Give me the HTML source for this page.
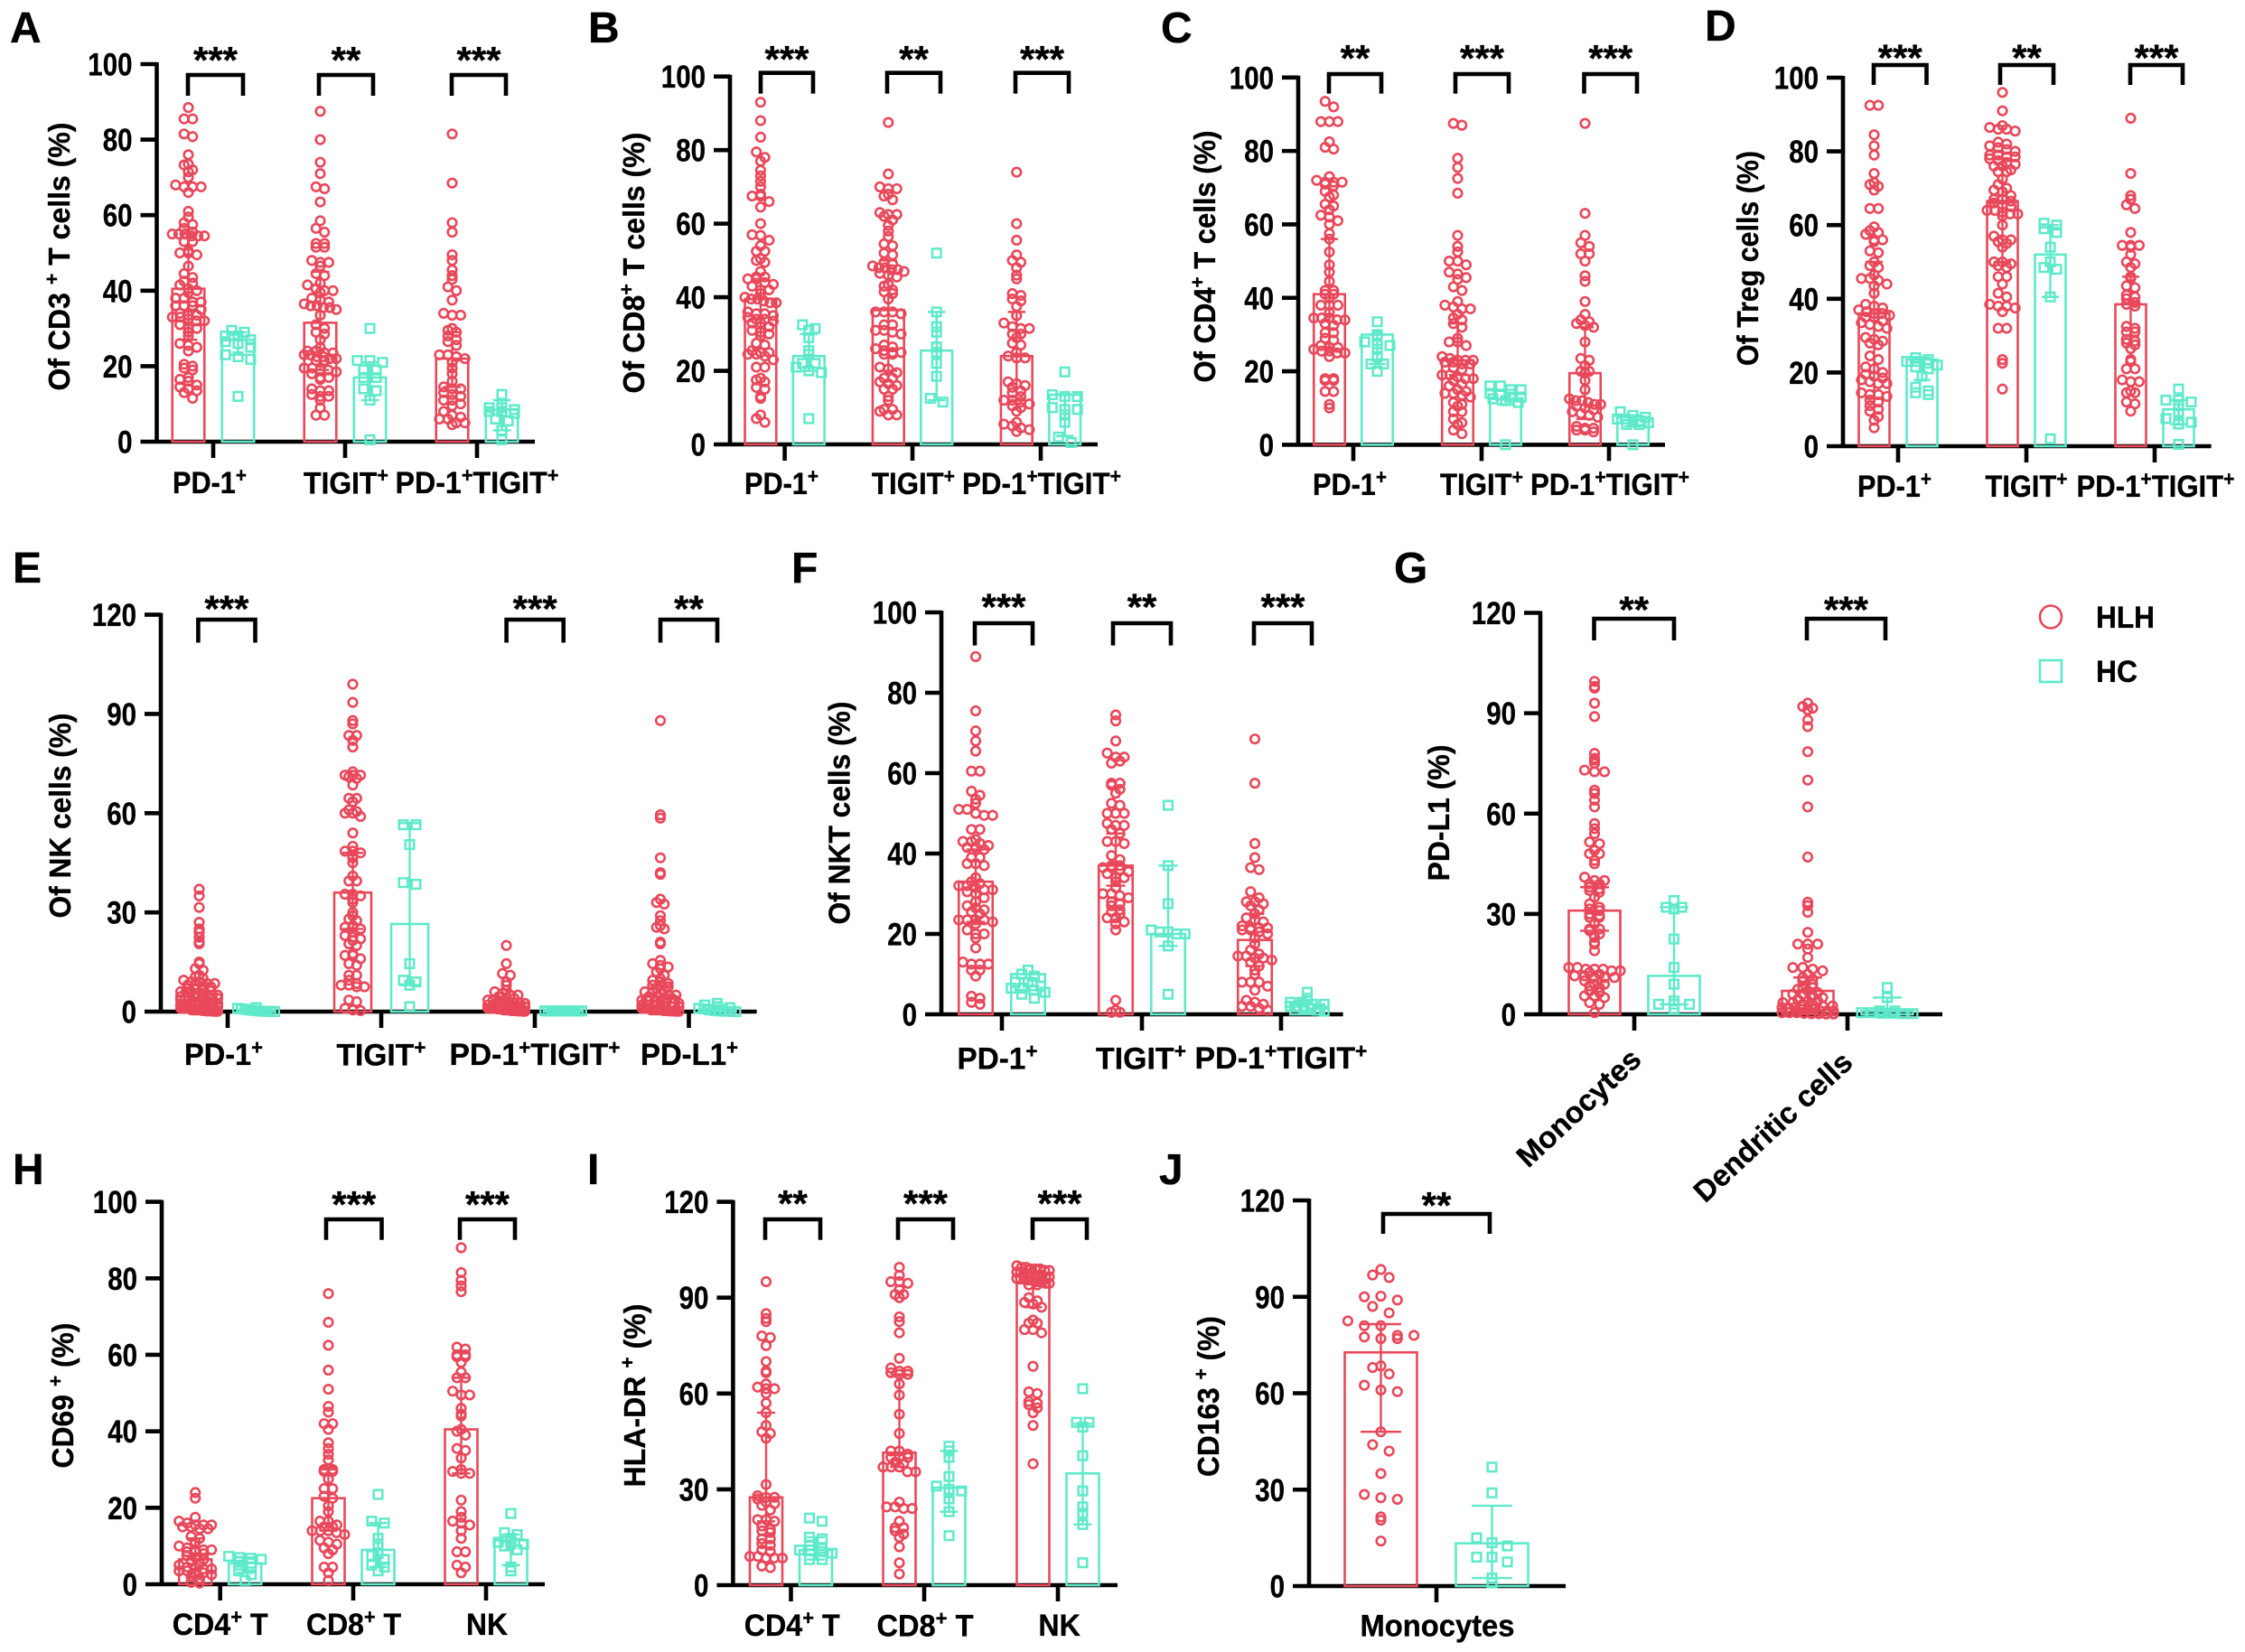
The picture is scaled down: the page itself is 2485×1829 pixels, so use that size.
<!DOCTYPE html>
<html lang="en">
<head>
<meta charset="utf-8">
<title>Immune checkpoint expression in HLH and HC</title>
<style>
html,body{margin:0;padding:0;background:#fff;}
svg{display:block;}
text{font-family:"Liberation Sans",Arial,sans-serif;font-weight:bold;fill:#000;stroke:#000;stroke-width:0.35px;}
</style>
</head>
<body>
<svg id="figure" xmlns="http://www.w3.org/2000/svg" width="2485" height="1829" viewBox="0 0 2485 1829"></svg>
<script>
/* ---------- Panel A ---------- */
const catsA=["PD-1^+","TIGIT^+","PD-1^+TIGIT^+"];
const sigA=["***","**","***"];
const hlhA=[[88.5,85.5,85.5,81.5,80.8,76,73.5,73.3,72,71.5,70,68,67.5,67.5,67.5,66,61,59.5,58,57.5,56.5,55.5,55,55,55,54.5,54.5,54.5,53,53,50.5,50,50,49.5,46.5,44.5,43.5,42.5,42,41.5,40.5,40,39.5,38,38,37,37,36,36,36,35,34,33.5,33.5,33,33,32.5,32,32,31,30,30,29,28,26,25.5,25,24,20.5,20,19.5,19,17,16.5,16,15,14.5,14,13.5,13,11.5],
[87.5,80,74,71,67.5,67,63.5,58.5,56.5,55.5,52.5,52.5,51.5,51.5,48,47.5,47.5,46.5,44.5,44,42,41.5,40.5,40,40,39.5,38,37.5,37,36.5,36,36,35.5,35.5,35,33.5,31,30,29,28.5,27,25,24,24,23.5,23.5,23,23,22.5,22.5,22,22,21.5,21.5,19.5,19.5,19,19,18.5,18,17,17,16.5,14,13.5,13.5,12.5,12,12,11,9,7,7],
[81.5,68.5,58,55.5,49.5,48,45.5,44,43,41,40,37.5,34,33.5,33.5,30,29.5,29,28,27,26.5,25.5,23,23,22.5,22,21,19.5,18,16,14.5,14,14,13,12.5,12,11,11,10,9.5,8,7,6.5,6,6,5,5,4.5]];
const hcA=[[29.5,29,28,28,27,26.5,26,25,23,22.5,21.8,12],[30,21.5,21.5,21,19,19,17,17,14,13.5,11,0.5],[12.5,10,9,9,8.5,8,8,7.5,6,5.5,3,0.5]];
const meanHlhA=[40.5,31.5,22];
const meanHcA=[27,17,8.5];
const loHlhA=[27,19,14.5];
const hiHlhA=[55,45,29];
const loHcA=[23,11,3];
const hiHcA=[29,21,11];
/* ---------- Panel B ---------- */
const catsB=["PD-1^+","TIGIT^+","PD-1^+TIGIT^+"];
const sigB=["***","**","***"];
const hlhB=[[93,88,83.5,79.5,78,77,74.5,73,71.5,70,68,67.5,67.5,66,64.5,60,57,56.8,55.5,54,52.5,52.5,50.5,50,49.5,47,45.5,45.5,45,45,44,43.5,43,42,42,41,40,39.5,39.5,39,38.5,38.5,36,35.5,35.5,35,34.5,34,34,33.5,33,33,32,31,30.5,30,29.5,27.5,27,25.5,25,25,24.5,24.5,24,23,21,21,18,17.5,17,15.5,15,13,12.5,8,7,6],
[87.5,73.5,70,69.5,69.5,68,67.5,66.5,63,62.5,62.5,62,61,59.5,58,56.5,54.5,54,52,51.5,49.5,49,48.5,48,48,47.5,47.5,47,46.5,46,45.5,43.5,43,42,41.5,41,39.5,36,36,36,35.5,32.5,32.5,31,31,30.5,30,27,26.5,26,25.5,25,25,24.5,24.5,21,20.5,19.5,18,18,17,16.5,16,15,15,13,12,9.5,9.5,9,8,8],
[74,60,55.5,51.5,50,49.5,48,46,45,41,40.5,39.5,39,37.5,35,33,32,31.5,31.5,30,30,29,27.5,27,25,24,23.5,23.5,17,16.5,16,15.5,14.5,14,13,12,12,11.5,11,10.5,10,9,6,5.5,5,4.5,4,3.5]];
const hcB=[[32.5,31.5,31,29,25.5,24.5,22,22,21,20,19.5,7],[52,36,32,30.5,26.5,25,22,18.5,12.5,11.5],[19.7,13.5,13,13,10,9.5,9.5,8,6,2,0.5]];
const meanHlhB=[39.5,36.5,24];
const meanHcB=[24,25.5,13.5];
const loHlhB=[26,20,12];
const hiHlhB=[45,50,36];
const loHcB=[20,12,2.3];
const hiHcB=[30,36,13.5];
/* ---------- Panel C ---------- */
const catsC=["PD-1^+","TIGIT^+","PD-1^+TIGIT^+"];
const sigC=["**","***","***"];
const hlhC=[[93.5,92,88,88,88,82.5,81,80.5,73,72,71.5,71.5,71.5,71,70.5,69,68,67.5,65.5,65,64,62.5,62,61,60,57.5,56,52.5,49,47,44.5,42,42,41,41,40,38,38,38,36,34.5,34.5,34.5,34,34,33,32.5,30.5,30.5,29,28.5,27,26.5,26.5,26,25.5,25.5,25,25,24,18,18,17.5,17.5,14.5,14.5,11,10],
[87.5,87,78,75.5,72.5,68.5,57,54,52.5,50,50,49,47,46.5,45.5,45,43,42,39,38,37.5,37,37,35.5,34.5,34,33,32,29,28,28,27,24,23.5,23,23,23,22.5,22.5,22,22,21,20.5,19,19,18.5,18,18,17.5,16.5,16,15,14.5,14,14,13.5,13,11.5,11,10.5,9,9,7,6,5.5,4,3],
[87.5,63,57,55,54,52,52,50,46,44.5,39,35.5,34,33.5,33,32.5,32,28,23.5,23,21.5,20,20,19.5,17.5,15,12.5,12,12,11.5,11,11,10.5,10,9.5,9,8.5,8,7.5,5,4.5,4.5,4,4,3.5]];
const hcC=[[33.5,30,29.5,28,27.5,27,26,24,22,22,20],[16,16,15,15,14,13.5,13,13,12.5,12,11.5,0],[9,8,7.5,7,7,6.5,6.5,6,5.5,5.5,0]];
const meanHlhC=[41,23,19.5];
const meanHcC=[30,12.5,7.5];
const loHlhC=[26,19,7];
const hiHlhC=[56,33,32];
const loHcC=[22,11,5];
const hiHcC=[30,15,8];
/* ---------- Panel D ---------- */
const catsD=["PD-1^+","TIGIT^+","PD-1^+TIGIT^+"];
const sigD=["***","**","***"];
const hlhD=[[92.5,92.5,84.5,81.5,79,74,71.5,71,70.5,69.5,64.5,64.5,59.5,58.5,58,57.5,56,56,55.5,53,52.5,50,49,48.5,46.5,45.5,45.5,45,44,43.5,41.5,38.5,38,37.5,37,36.5,36,36,35.5,35,35,34,33.5,33,32.5,32,29.5,29,28.5,28,27.5,24.5,23.5,21.5,21,20,19.5,19,18.5,18,17.5,17,17,14.5,14,14,13.5,12.5,12,11,10,9.5,8,7,5],
[96,91,87,86.5,86,86,85.5,82.5,82,81.5,81,80.5,80,79,79,78.5,78.5,78,77.5,77,76.5,76,76,75,74.5,74.5,72.5,71,70,69.5,69,68,67,67,66.5,66,65.5,65,64,64,63.5,63,63,62.5,60,57,56,56,55.5,55,54,50,50,49.5,49,48.5,46,46,44,41.5,40.5,38.5,38,38,37.5,36.5,32,32,23.5,22.5,15.5],
[89,74,68,67,65.5,64.5,58,54.5,54.5,54.5,54,52,50,49.5,48.5,46,45.5,43.5,43,41,40.5,40,39,38.5,38,32.5,32,31,31,29,28.5,28,27.5,26.5,23.5,23,21,21,18,17.5,17.5,15,14.5,14.5,12,11.5,9.5]];
const hcD=[[24,23.5,23,23,22.5,22,21.5,21,19,16,15,14.5,14],[60.5,60,59,58,54,50,48.5,48,40.5,2],[15.5,12.5,12.5,12,11,9,7.5,7,6.5,6,0.5]];
const meanHlhD=[36,66.5,38.5];
const meanHcD=[23.5,52,10];
const loHlhD=[13,50,30];
const hiHlhD=[50,78,46];
const loHcD=[18,40.5,6];
const hiHcD=[24,60,12.5];
/* ---------- Panel E ---------- */
const catsE=["PD-1^+","TIGIT^+","PD-1^+TIGIT^+","PD-L1^+"];
const sigE=["***","","***","**"];
const hlhE=[[37,35,31.5,27,25,24,22.5,21,20.5,15,14.5,13,12.5,11,10.5,10,9.5,9,9,8.5,8.5,8,8,7.5,7.5,7,7,6.5,6.5,6,6,6,5.5,5.5,5,5,5,4.5,4.5,4.5,4,4,4,3.5,3.5,3.5,3,3,3,3,2.5,2.5,2.5,2.5,2,2,2,2,1.5,1.5,1.5,1.5,1,1,1,1,1,0.5,0.5,0.5,0.5,0.5,0.3,0.3,0.2,0.2,0.2,0.1,0.1,0.1],
[99,93.5,88,87,83.5,83.5,82,80,72.5,71.5,71.5,71.5,71,70.5,68.5,64.5,64.5,63.5,61,60.5,60,60,59,54,50,48.5,48.5,48,47,46.5,45,41,39.5,39.5,35.5,35.5,35,34,33,30,29,28,27.5,26,25.5,25.5,25,24,23,22.5,22,21.5,20.5,20,17.5,17,17,16,14.5,14,11,11,9.5,8.5,8,8,7.5,7.5,3.5,3,1,0.5,0.3],
[20,14.5,11.5,11,9,8,6.5,6,5.5,5,5,4.5,4,4,3.5,3.5,3,3,3,2.5,2.5,2.5,2,2,2,2,1.5,1.5,1.5,1.5,1,1,1,1,1,0.8,0.8,0.8,0.5,0.5,0.5,0.5,0.3,0.3,0.3,0.2,0.2,0.2,0.1,0.1],
[88,59.5,58.5,46.5,42,41.5,34,33,32.5,29,27.5,26,25.5,25,21,20.5,15.5,14.5,14,13.5,13,12,11,10,9.5,9,8.5,8,8,7.5,7,6.5,6,6,5.5,5,5,4.5,4.5,4,4,3.5,3.5,3,3,3,2.5,2.5,2,2,2,1.5,1.5,1.5,1,1,1,0.5,0.5,0.5,0.5,0.3,0.3,0.2,0.2,0.1,0.1]];
const hcE=[[1.2,1,0.8,0.7,0.5,0.4,0.3,0.2,0.1,0.1,0.1,0],[56.5,56.5,50.5,39,38.5,14.5,9.5,9,8,1.5],[0.2,0.2,0.2,0.2,0.2,0.2,0.2,0.2,0.2,0.2,0.2,0.2],[2.5,2,1.5,1.2,1,0.8,0.5,0.3,0.2,0.1,0.1,0]];
const meanHlhE=[3.5,36,2,4.5];
const meanHcE=[0.5,26.5,0.2,0.8];
const loHlhE=[0.5,25,0.3,1];
const hiHlhE=[8,48,4,8];
const loHcE=[0,8,0,0];
const hiHcE=[1,57,0.2,2];
/* ---------- Panel F ---------- */
const catsF=["PD-1^+","TIGIT^+","PD-1^+TIGIT^+"];
const sigF=["***","**","***"];
const hlhF=[[89,75.5,70.5,68,65.5,60.5,60.5,55.5,54.5,53.5,52.5,51,51,50,49.5,49.5,46,46,43.5,43,43,42.5,42,41.5,41.5,41,39,39,37.5,37.5,37,34,33,32.5,32,32,31.5,31,31,30.5,30,29,28,27,26.5,26,25.5,25,23.5,23.5,23.5,23.5,23,22.5,21,20,20,19,16.5,13,12.5,12.5,12.5,11,11,9.5,4.5,4,3,2.5],
[74.5,73,68,65,64,64,62.5,63,57.5,57.5,57,56,55,52.5,52,50,50,50,47.5,47,47,46,45,43,43,42.5,39.5,38.5,37,37,36.5,36.5,36,35.5,35,34,34,33,31.5,30,30,29.5,29,28,27.5,27,26,25.5,25,24,24,23,22.5,21,3.5,1,0.5,0.5],
[68.5,57.5,42.5,39,36.5,36,30.5,29,28,28,27.5,27,26,25,24,23.5,23,22,21.5,21.5,21.5,21,21,20.5,20,19,17.5,16,15,14.5,14.5,14,14,13.5,13,12,11,10,8,8,8,7,6,3.5,3,2.5,2,2,1.5,1]];
const hcF=[[11,10,9.5,8,8,7,6.5,6.5,6,5.5,5,4],[52,37,27.5,21,20.5,20.5,20,20,17,5],[5.5,4,3,3,2.5,2.5,2,2,1.5,1.5,1,0.8]];
const meanHlhF=[33,37,18.5];
const meanHcF=[10,20,2.5];
const loHlhF=[23,32,12];
const hiHlhF=[41,45,25];
const loHcF=[6,17,1];
const hiHcF=[9,37,3.5];
/* ---------- Panel G ---------- */
const catsG=["Monocytes","Dendritic cells"];
const sigG=["**","***"];
const hlhG=[[99.5,98,97.5,93,89,78,76.5,76,75,73,72.5,72.5,67,66,64,62,57,55.5,54,51.5,51,49,48,48,46,45,41,40,40,39,39,38,37.5,37,36.5,35,33,32,31.5,31,30,29.5,29,29,27,25.5,25.5,25,24,23,21.5,21,19,14,14,13.5,13.5,13.5,13,13,12.5,12,11.5,11.5,11,11,11,10,9,9,8.5,8,7,6.5,5.5,5.5,5,3.5,3,0.5],
[93,92,91.5,91,88,86,78.5,70,62,47,33.5,32.5,30.5,24.5,21,21,21,19.5,17,14,14,13.5,13,12,11,10.5,10,9,8,8,7.5,7,6.5,6,6,5.5,5,4.5,4,4,3.5,3.5,3,3,2.5,2.5,2,2,2,1.5,1.5,1.5,1,1,1,0.5,0.5,0.5,0.3,0.2,0.2,0.1,0.1]];
const hcG=[[34,32,32,31.5,22.5,14,9,4,3,3,3,1.5],[8,5,1,1,0.5,0.5,0.3,0.3,0.2,0.2]];
const meanHlhG=[31,7];
const meanHcG=[11.5,1];
const loHlhG=[25,1];
const hiHlhG=[38,11];
const loHcG=[3,0];
const hiHcG=[32,5];
/* ---------- Panel H ---------- */
const catsH=["CD4^+ T","CD8^+ T","NK"];
const sigH=["","***","***"];
const hlhH=[[24,22.5,17.5,16.5,16,15.5,15.5,15.5,15,15,14.5,14.5,12.5,12,11,10,9.5,9,9,9,8.5,8.5,8,7.5,7,6.5,6,5.5,5,4.5,4.5,4,4,3.5,3.5,3,3,2.5,2,1.5,0.5,0.3],
[76,68.5,62.5,56,51,46.5,45,42,42,40.5,37,35.5,34,32.5,30,30,29.5,29.5,27.5,25,25,23,22.5,20.5,19,16.5,16.5,15.5,15,15,14,14,14,13.5,13,11.5,11,10.5,9.5,9,8,4.5,4.5,3,1],
[88,81.5,79.5,78,76.5,62,61.5,60,60,59.5,59.5,58,55.5,54,54,50.5,49.5,49.5,46,44.5,44,40.5,40,39,35.5,35,33,30,29.5,29,29,22,19,17.5,16.5,16,15.5,14,12,8.5,8.5,5,4.5,3]];
const hcH=[[7.3,7,6.8,6.5,6,5.5,5,4.5,3.5,2.5,1],[23.5,16.5,16,12,10.5,8,7.5,6.5,5,4.5,3.5],[18.5,13.5,13,12,11,10.5,10.5,10,9,4.5,3.5]];
const meanHlhH=[6.5,22.5,40.5];
const meanHcH=[5.5,9,11.5];
const loHlhH=[2,14,29];
const hiHlhH=[12,30,54];
const loHcH=[3,4.5,5];
const hiHcH=[7,16,13];
/* ---------- Panel I ---------- */
const catsI=["CD4^+ T","CD8^+ T","NK"];
const sigI=["**","***","***"];
const hlhI=[[95,85,83.5,82.5,78,77.5,75,70,67,66.5,63,62,61.5,61.5,60,57,54,50,48,47.5,46,31.5,28,27.5,27.5,27,26,25.5,25,23.5,20.5,20.5,20,18.5,17.5,17,16.5,14.5,14.5,13,12.5,11,10.5,9,9,8.5,8.5,8.5,6,5.5],
[99.5,97,95,95,94.5,92.5,91,91,90,84,82.5,79,71,68,67,67,66.5,66,66,63,59.5,53.5,47.5,42,42,41,40,40,40,38.5,38,37,37,37,35.5,35.5,26,24.5,24.5,24,24,20,18,18,17,16,15,12,7,3.5],
[100,99.5,99.5,99,99,99,98.5,98.5,98,98,98,97.5,97.5,97,97,97,96.5,96.5,96,96,96,95.5,95.5,95,95,95,94.5,94.5,94,94,90,89,88.5,88,87,83,82,82,80,80,79,68.5,60.5,60,57.5,57,56.5,55.5,54,50,38]];
const hcI=[[21,20,15,14.5,12.5,11.5,11,11,10.5,10,8,8],[43.5,42,40,34,31,30,29.5,29,27,23,15.5],[61.5,51,51,49.5,40.5,29.5,24.5,22.5,19,7]];
const meanHlhI=[27.5,41.5,94.5];
const meanHcI=[11,30.5,35];
const loHlhI=[20,37,87];
const hiHlhI=[54,66,100];
const loHcI=[8,23,19];
const hiHcI=[15,42,50.5];
/* ---------- Panel J ---------- */
const catsJ=["Monocytes"];
const sigJ=["**"];
const hlhJ=[[98.5,96.8,96,90,90.2,89,87,85,82.5,81,81,78,78,77.5,77,77,68,68.5,66,62.5,61,60.5,48,44,42,35,28.5,27.5,27,21.5,20.5,14]];
const hcJ=[[37,29,15,13.5,12.5,9,9,7.5,2.5,1]];
const meanHlhJ=[72.7];
const meanHcJ=[13.3];
const loHlhJ=[48];
const hiHlhJ=[81.5];
const loHcJ=[2.5];
const hiHcJ=[25];
/* ---------- Axis ticks ---------- */
const ticks100=[0,20,40,60,80,100];
const ticks120=[0,30,60,90,120];

const RED="#e9485a";
const TEAL="#5eeaca";
const NS="http://www.w3.org/2000/svg";
const root=document.getElementById("figure");

function mk(tag,attrs,parent){
  const el=document.createElementNS(NS,tag);
  for(const k in attrs)el.setAttribute(k,attrs[k]);
  (parent||root).appendChild(el);
  return el;
}
/* "^" wraps a superscript */
function fillText(t,str,size){
  const parts=str.split("^");
  const rise=Math.round(size*0.36);
  parts.forEach(function(p,i){
    if(i===0){t.appendChild(document.createTextNode(p));return;}
    const sup=mk("tspan",{"font-size":Math.round(size*0.68),dy:-rise},t);
    sup.textContent=p.charAt(0);
    const rest=p.slice(1);
    const tail=mk("tspan",{dy:rise},t);
    tail.textContent=rest===""?"\u200b":rest;
  });
}
function fitted(str,cx,cy,len,rot,size,parent){
  const g=mk("g",{},parent);
  const t=mk("text",{x:0,y:size*0.36,"text-anchor":"middle","font-size":size},g);
  fillText(t,str,size);
  const sx=len/t.getComputedTextLength();
  g.setAttribute("transform","translate("+cx+" "+cy+") rotate("+rot+") scale("+sx+" 1)");
  return t;
}
function swarm(values,y,step,binPx,maxHalf){
  const bins={};
  values.forEach(function(v){
    const k=Math.floor(y(v)/binPx);
    (bins[k]=bins[k]||[]).push(v);
  });
  const out=[];
  Object.keys(bins).forEach(function(k){
    const b=bins[k],n=b.length;
    const s=n>1?Math.min(step,2*maxHalf/(n-1)):0;
    b.forEach(function(v,i){out.push({v:v,dx:(i-(n-1)/2)*s});});
  });
  return out;
}
function drawGroup(g,L,color,cx,values,mean,lo,hi,y,step,square){
  const bar=mk("rect",{x:cx-L.barW/2,y:y(mean),width:L.barW,height:L.y0-y(mean),fill:"none",stroke:color,"stroke-width":2.6},g);
  
  
  const cap=L.barW*0.28;
  const err=mk("path",{d:"M"+cx+" "+y(hi)+"V"+y(lo)+"M"+(cx-cap)+" "+y(hi)+"H"+(cx+cap)+"M"+(cx-cap)+" "+y(lo)+"H"+(cx+cap),fill:"none",stroke:color,"stroke-width":2.4},g);
  
  
  swarm(values,y,step,L.bin||7,Math.max(L.barW/2,step)).forEach(function(p){
    const px=cx+p.dx,py=y(p.v);
    let m;
    if(square){
      m=mk("rect",{x:px-4.8,y:py-4.8,width:9.6,height:9.6,fill:"none",stroke:color,"stroke-width":2.5},g);
    }else{
      m=mk("circle",{cx:px,cy:py,r:4.8,fill:"none",stroke:color,"stroke-width":2.6},g);
    }
    
    
  });
}
function panel(L,D){
  const g=mk("g",{});
  
  
  const letter=mk("text",{x:L.lx,y:L.ly,"font-size":48},g);
  letter.textContent=L.letter;
  
  
  const y=function(v){return L.y0+(L.yTop-L.y0)*v/L.yMax;};
  const axes=mk("path",{d:"M"+L.ax+" "+(L.yTop-2)+"V"+(L.y0+2)+"M"+L.ax+" "+L.y0+"H"+L.xEnd,fill:"none",stroke:"#000","stroke-width":L.lw||4.6},g);
  
  
  D.ticks.forEach(function(tv){
    const tk=mk("line",{x1:L.ax-18,x2:L.ax,y1:y(tv),y2:y(tv),stroke:"#000","stroke-width":L.lw||4.6},g);
    
    
    const s=String(tv);
    const lb=mk("text",{x:L.ax-27,y:y(tv)+12.5,"text-anchor":"end","font-size":35,textLength:s.length*16.4,lengthAdjust:"spacingAndGlyphs"},g);
    lb.textContent=s;
    
    
  });
  const yt=fitted(D.title,L.tx,L.tcy,L.tlen,-90,33,g);
  
  
  D.cats.forEach(function(c,i){
    const tx=L.ticksX[i];
    const tk=mk("line",{x1:tx,x2:tx,y1:L.y0,y2:L.y0+18,stroke:"#000","stroke-width":L.lw||4.6},g);
    
    
    const lab=fitted(c,L.labX[i],L.labYs?L.labYs[i]:L.labY,L.labW[i],L.labRot||0,L.labSize||34,g);
    
    
    const off=L.offs?L.offs[i]:L.off;
    drawGroup(g,L,RED,tx-off,D.hlh[i],D.meanH[i],D.loH[i],D.hiH[i],y,L.stepH||9.4,false);
    drawGroup(g,L,TEAL,tx+off,D.hc[i],D.meanC[i],D.loC[i],D.hiC[i],y,L.stepC||14,true);
    if(D.sig[i]){
      const bx=L.brX[i];
      const br=mk("path",{d:"M"+bx[0]+" "+L.brBot+"V"+L.brTop+"H"+bx[1]+"V"+L.brBot,fill:"none",stroke:"#000","stroke-width":4.6},g);
      
      
      const st=mk("text",{x:(bx[0]+bx[1])/2,y:L.starY+24,"text-anchor":"middle","font-size":42},g);
      st.textContent=D.sig[i];
      
      
    }
  });
}

panel({letter:"A",lx:11,ly:47,ax:173.5,yTop:71,y0:489,yMax:100,xEnd:592,ticksX:[236,382,528],off:27.5,barW:35.5,tx:65,tcy:284,tlen:297,labX:[232,383,528],labW:[82,94,181],labY:534,brTop:83,brBot:106,brX:[[208,269],[353,413],[500,560]],starY:57},
{cats:catsA,sig:sigA,ticks:ticks100,title:"Of CD3 ^+ T cells (%)",hlh:hlhA,hc:hcA,meanH:meanHlhA,meanC:meanHcA,loH:loHlhA,hiH:hiHlhA,loC:loHcA,hiC:hiHcA});

panel({letter:"B",lx:651,ly:47,ax:808,yTop:84.7,y0:492,yMax:100,xEnd:1215,ticksX:[868.6,1010,1152],off:26.7,barW:34.7,tx:701,tcy:291,tlen:289,labX:[865,1011,1153],labW:[82,92,176],labY:535,brTop:80.7,brBot:103.6,brX:[[842,900],[982,1041],[1124,1183]],starY:56},
{cats:catsB,sig:sigB,ticks:ticks100,title:"Of CD8^+ T cells (%)",hlh:hlhB,hc:hcB,meanH:meanHlhB,meanC:meanHcB,loH:loHlhB,hiH:hiHlhB,loC:loHcB,hiC:hiHcB});

panel({letter:"C",lx:1285,ly:47,ax:1437,yTop:85.8,y0:492.4,yMax:100,xEnd:1843,ticksX:[1498,1640,1781],off:26.5,barW:34.5,tx:1333,tcy:284,tlen:279,labX:[1494,1640,1782],labW:[82,92,176],labY:536,brTop:82,brBot:103.6,brX:[[1471,1529],[1611,1670],[1753.5,1812]],starY:55},
{cats:catsC,sig:sigC,ticks:ticks100,title:"Of CD4^+ T cells (%)",hlh:hlhC,hc:hcC,meanH:meanHlhC,meanC:meanHcC,loH:loHlhC,hiH:hiHlhC,loC:loHcC,hiC:hiHcC});

panel({letter:"D",lx:1887,ly:45,ax:2040,yTop:86,y0:494,yMax:100,xEnd:2447.6,ticksX:[2101,2243,2385],off:26.5,barW:34,tx:1934,tcy:286,tlen:238,labX:[2097,2243,2386],labW:[82,91,175],labY:538,brTop:72,brBot:94,brX:[[2074,2132.5],[2214,2273],[2358,2416]],starY:54.5},
{cats:catsD,sig:sigD,ticks:ticks100,title:"Of Treg cells (%)",hlh:hlhD,hc:hcD,meanH:meanHlhD,meanC:meanHcD,loH:loHlhD,hiH:hiHlhD,loC:loHcD,hiC:hiHcD});

panel({letter:"E",lx:14,ly:645,ax:178,yTop:680.6,y0:1120,yMax:120,xEnd:837.6,ticksX:[252,422,592,762.5],off:31.5,barW:41,stepH:8.6,bin:4.5,tx:66,tcy:903,tlen:227,labX:[247.5,422,592,763],labW:[87,99,189,108],labY:1167,brTop:686,brBot:711.5,brX:[[219.4,282.5],[0,0],[560.6,623.7],[731,794]],starY:664.4},
{cats:catsE,sig:sigE,ticks:ticks120,title:"Of NK cells (%)",hlh:hlhE,hc:hcE,meanH:meanHlhE,meanC:meanHcE,loH:loHlhE,hiH:hiHlhE,loC:loHcE,hiC:hiHcE});

panel({letter:"F",lx:876,ly:645,ax:1042,yTop:678,y0:1123,yMax:100,xEnd:1486.6,ticksX:[1109,1264,1418],off:29,barW:37.5,tx:928.5,tcy:900,tlen:247,labX:[1104,1263,1418],labW:[89,100,191],labY:1171,brTop:690,brBot:714.6,brX:[[1079,1143],[1232,1296],[1388,1452]],starY:662.5},
{cats:catsF,sig:sigF,ticks:ticks100,title:"Of NKT cells (%)",hlh:hlhF,hc:hcF,meanH:meanHlhF,meanC:meanHcF,loH:loHlhF,hiH:hiHlhF,loC:loHcF,hiC:hiHcF});

panel({letter:"G",lx:1543,ly:645,ax:1705,yTop:678.5,y0:1123,yMax:120,xEnd:2150,ticksX:[1809,2045],offs:[44,44],barW:57,stepH:11,stepC:17,bin:5,tx:1592,tcy:900,tlen:151,labX:[1747,1962],labYs:[1226,1247],labW:[174,226],labRot:-43,labSize:33,labY:0,brTop:685,brBot:709,brX:[[1764.5,1853],[2000,2087]],starY:665.5},
{cats:catsG,sig:sigG,ticks:ticks120,title:"PD-L1 (%)",hlh:hlhG,hc:hcG,meanH:meanHlhG,meanC:meanHcG,loH:loHlhG,hiH:hiHlhG,loC:loHcG,hiC:hiHcG});

panel({letter:"H",lx:14,ly:1311,ax:179,yTop:1330.6,y0:1754,yMax:100,xEnd:603,ticksX:[243.7,391,538],off:27.5,barW:36,bin:5.5,tx:69,tcy:1545,tlen:161,labX:[243.7,391.5,539],labW:[106,105,46],labY:1797.6,brTop:1350,brBot:1372.7,brX:[[0,0],[361,422.5],[509,570]],starY:1324},
{cats:catsH,sig:sigH,ticks:ticks100,title:"CD69 ^+ (%)",hlh:hlhH,hc:hcH,meanH:meanHlhH,meanC:meanHcH,loH:loHlhH,hiH:hiHlhH,loC:loHcH,hiC:hiHcH});

panel({letter:"I",lx:650,ly:1311,ax:811.4,yTop:1330.6,y0:1755,yMax:120,xEnd:1237,ticksX:[875.5,1023,1171],off:27.5,barW:36,tx:702,tcy:1545,tlen:203,labX:[876.7,1024,1172.6],labW:[106,107,46.5],labY:1799,brTop:1350,brBot:1372.7,brX:[[847,908],[994,1055],[1143,1203]],starY:1323},
{cats:catsI,sig:sigI,ticks:ticks120,title:"HLA-DR ^+ (%)",hlh:hlhI,hc:hcI,meanH:meanHlhI,meanC:meanHcI,loH:loHlhI,hiH:hiHlhI,loC:loHcI,hiC:hiHcI});

panel({letter:"J",lx:1283,ly:1311,ax:1449,yTop:1329,y0:1756,yMax:120,xEnd:1733,ticksX:[1590],off:61.5,barW:80,stepH:18.3,stepC:17,bin:17,tx:1337,tcy:1546,tlen:178,labX:[1591],labW:[171],labY:1799.4,labSize:34,brTop:1344,brBot:1366,brX:[[1531,1649]],starY:1325},
{cats:catsJ,sig:sigJ,ticks:ticks120,title:"CD163 ^+ (%)",hlh:hlhJ,hc:hcJ,meanH:meanHlhJ,meanC:meanHcJ,loH:loHlhJ,hiH:hiHlhJ,loC:loHcJ,hiC:hiHcJ});

/* Legend */
const legend=mk("g",{});


const legC=mk("ellipse",{cx:2270,cy:683,rx:12,ry:12.5,fill:"none",stroke:RED,"stroke-width":2.6},legend);


const legCT=mk("text",{x:2320,y:695,"font-size":34,textLength:65,lengthAdjust:"spacingAndGlyphs"},legend);
legCT.textContent="HLH";


const legR=mk("rect",{x:2258,y:731,width:24,height:24,fill:"none",stroke:TEAL,"stroke-width":2.6},legend);


const legRT=mk("text",{x:2320,y:755,"font-size":34,textLength:46,lengthAdjust:"spacingAndGlyphs"},legend);
legRT.textContent="HC";


</script>
</body>
</html>
